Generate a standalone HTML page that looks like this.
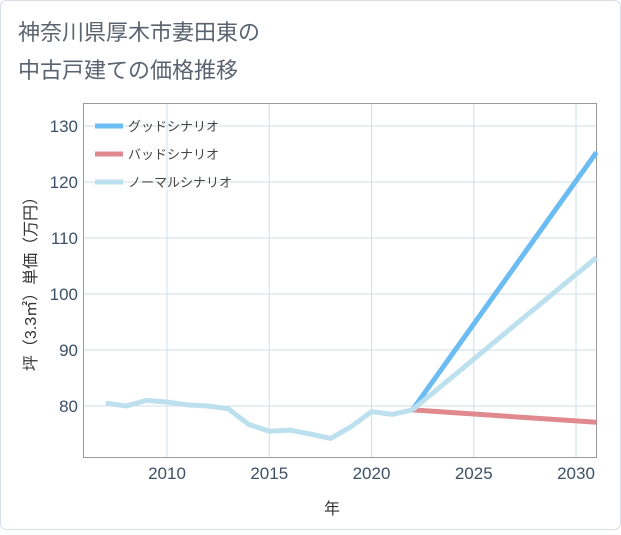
<!DOCTYPE html>
<html><head><meta charset="utf-8"><style>
body{margin:0;background:#fff;}
svg text{font-family:"Liberation Sans","Noto Sans CJK JP",sans-serif;}
</style></head><body>
<svg width="621" height="530" xmlns="http://www.w3.org/2000/svg">
<rect x="0.5" y="0.5" width="620" height="529" rx="6" fill="#fff" stroke="#d6dde6"/>
<text x="18" y="40" font-size="22" fill="#5a6470">神奈川県厚木市妻田東の</text>
<text x="18" y="78" font-size="22" fill="#5a6470">中古戸建ての価格推移</text>
<g id="grid"></g>
<rect x="83.5" y="103.5" width="513" height="354" fill="none" stroke="#999"/>
<g id="ticks"></g>
<g id="series"></g>
<text x="332" y="514" font-size="16" fill="#333" text-anchor="middle">年</text>
<text transform="translate(36,280) rotate(-90)" font-size="16" fill="#333" text-anchor="middle">坪（3.3㎡）単価（万円）</text>
<g>
<line x1="95" y1="126" x2="123" y2="126" stroke="#6bbcf3" stroke-width="5"/>
<text x="128" y="131" font-size="13" fill="#444">グッドシナリオ</text>
<line x1="95" y1="154" x2="123" y2="154" stroke="#e08a8f" stroke-width="5"/>
<text x="128" y="159" font-size="13" fill="#444">バッドシナリオ</text>
<line x1="95" y1="182" x2="123" y2="182" stroke="#bde0ee" stroke-width="5"/>
<text x="128" y="187" font-size="13" fill="#444">ノーマルシナリオ</text>
</g>
</svg>
<script>
const xTicks=[2010,2015,2020,2025,2030];
const yTicks=[80,90,100,110,120,130];
const histYears=[2007,2008,2009,2010,2011,2012,2013,2014,2015,2016,2017,2018,2019,2020,2021,2022];
const histValues=[80.5,80,81,80.7,80.2,80,79.5,76.7,75.5,75.7,75,74.2,76.3,79,78.5,79.3];
const projYears=[2022,2031];
const goodValues=[79.3,125.3];
const badValues=[79.3,77.1];
const normalValues=[79.3,106.5];
const NS='http://www.w3.org/2000/svg';
const X=y=>167+(y-2010)*20.45;
const Y=v=>126+(130-v)*5.6;
const grid=document.getElementById('grid'),ticks=document.getElementById('ticks'),ser=document.getElementById('series');
function mk(t,a,p){const e=document.createElementNS(NS,t);for(const k in a)e.setAttribute(k,a[k]);p.appendChild(e);return e;}
xTicks.forEach(t=>{
 const l=mk('line',{x1:X(t),x2:X(t),y1:104,y2:457,stroke:'#cfdde8','stroke-width':1},grid);
 
 
 const tx=mk('text',{x:X(t),y:479,'font-size':17,fill:'#3d5068','text-anchor':'middle'},ticks);
 tx.textContent=t;
 
 
});
yTicks.forEach(t=>{
 const l=mk('line',{x1:84,x2:596,y1:Y(t),y2:Y(t),stroke:'#cfdde8','stroke-width':1},grid);
 
 
 const tx=mk('text',{x:78,y:Y(t)+6,'font-size':17,fill:'#3d5068','text-anchor':'end'},ticks);
 tx.textContent=t;
 
 
});
function line(xs,vs,color,name){
 const p=mk('polyline',{points:xs.map((x,i)=>X(x)+','+Y(vs[i])).join(' '),fill:'none',stroke:color,'stroke-width':5,'stroke-linejoin':'round'},ser);
 
 
}
line(projYears,badValues,'#e08a8f','bad-scenario-line');
line(projYears,goodValues,'#6bbcf3','good-scenario-line');
line(projYears,normalValues,'#bde0ee','normal-scenario-line');
line(histYears,histValues,'#bde0ee','historical-line');
</script>
</body></html>
